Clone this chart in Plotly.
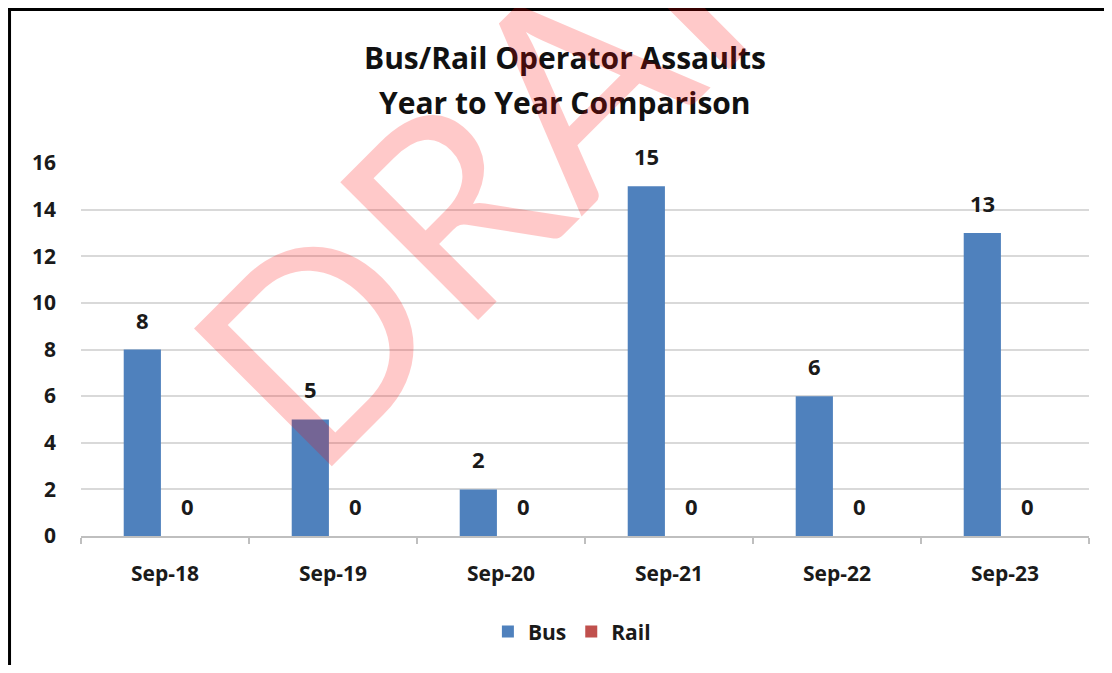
import plotly.graph_objects as go

categories = ["Sep-18", "Sep-19", "Sep-20", "Sep-21", "Sep-22", "Sep-23"]
bus = [8, 5, 2, 15, 6, 13]
rail = [0, 0, 0, 0, 0, 0]
y_ticks = [0, 2, 4, 6, 8, 10, 12, 14, 16]

BLUE = "#4F81BD"
RED = "#C0504D"
FONT = "Open Sans"
TXT = "#1a1a1a"

fig = go.Figure()
fig.add_trace(go.Bar(name="Bus", x=categories, y=bus, marker=dict(color=BLUE, line=dict(width=0))))
fig.add_trace(go.Bar(name="Rail", x=categories, y=rail, marker=dict(color=RED, line=dict(width=0))))

# page body has an 8px margin, so the figure is sized to the window minus it
W, H = 1096, 657
L, R, T, B = 73, 15, 155, 129
plot_w = W - L - R
slot = plot_w / len(categories)
bargap = 0.46
offset = slot * (1 - bargap) / 4

annotations = []
for series, sign in ((bus, -1), (rail, 1)):
    for c, v in zip(categories, series):
        annotations.append(dict(
            x=c, y=v, xref="x", yref="y", text=str(v), showarrow=False,
            xshift=sign * offset, yshift=30, yanchor="middle",
            font=dict(family=FONT, size=22, color=TXT, weight="bold"),
        ))

for txt, yy in (("Bus/Rail Operator Assaults", 1.284), ("Year to Year Comparison", 1.1635)):
    annotations.append(dict(
        x=0.48, y=yy, xref="paper", yref="paper", showarrow=False, text=txt,
        font=dict(family=FONT, size=30, color="#111111", weight="bold"),
        xanchor="center", yanchor="middle",
    ))

annotations.append(dict(
    x=0.465, y=1.168, xref="paper", yref="paper", showarrow=False,
    text="DRAFT", textangle=-45,
    font=dict(family="Lato", size=272, color="rgba(255,0,0,0.21)"),
    xanchor="center", yanchor="middle",
))

fig.update_layout(
    width=W, height=H,
    margin=dict(l=L, r=R, t=T, b=B),
    paper_bgcolor="white", plot_bgcolor="white",
    barmode="group", bargap=bargap, bargroupgap=0.18,
    showlegend=True,
    legend=dict(orientation="h", x=0.487, y=-0.257, xanchor="center", yanchor="middle",
                font=dict(family=FONT, size=21, color=TXT, weight="bold"),
                itemwidth=30, traceorder="normal"),
    annotations=annotations,
    shapes=[
        dict(type="line", xref="paper", yref="paper", x0=-0.0709, x1=-0.0709, y0=-0.5, y1=1.42,
             line=dict(color="black", width=3)),
        dict(type="line", xref="paper", yref="paper", x0=-0.075, x1=1.05, y0=1.4115, y1=1.4115,
             line=dict(color="black", width=3)),
    ],
    xaxis=dict(
        showgrid=False, showline=True, linecolor="#BFBFBF", linewidth=1.5,
        ticks="outside", tickson="boundaries", ticklen=6, tickcolor="#BFBFBF", tickwidth=1.5,
        ticklabelstandoff=18,
        tickfont=dict(family=FONT, size=21, color=TXT, weight="bold"),
    ),
    yaxis=dict(
        range=[0, 16], tickvals=y_ticks, showgrid=True, gridcolor="#D9D9D9", gridwidth=1.5,
        zeroline=False, showline=False,
        ticks="", ticklabelstandoff=24,
        tickfont=dict(family=FONT, size=21, color=TXT, weight="bold"),
    ),
)

fig.write_html("out.html")
